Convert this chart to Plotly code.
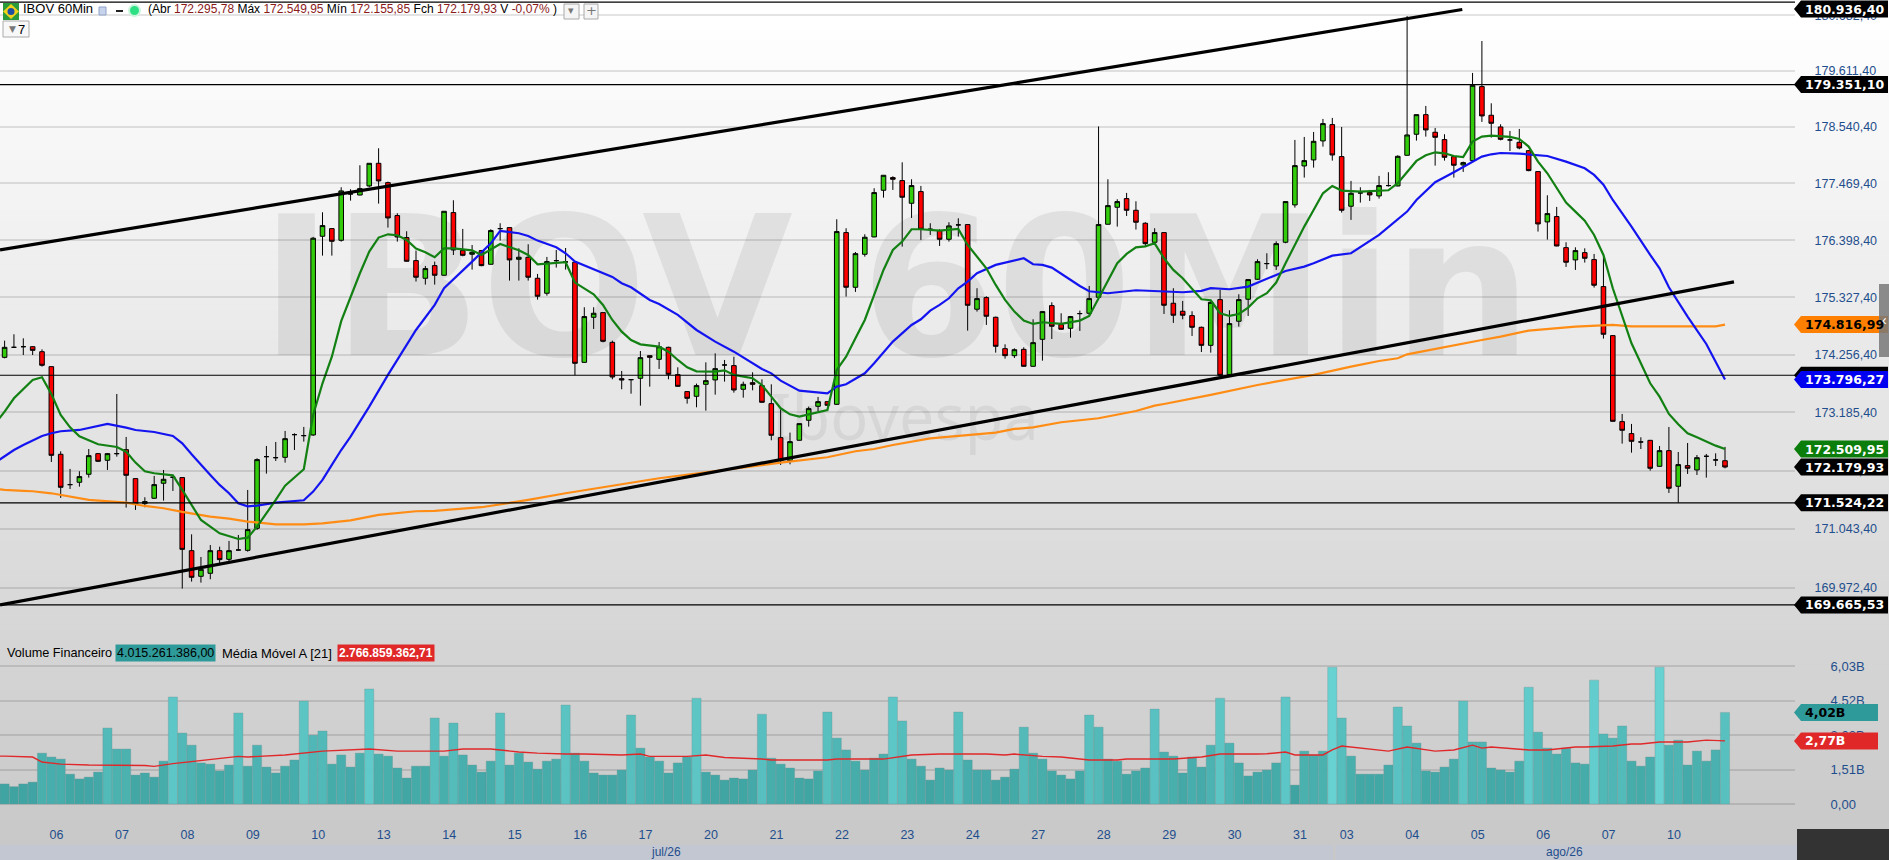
import numpy as np
import plotly.graph_objects as go

# --- candles IBOV 60min ---
abertura = [174207,174393,174405,174405,174312,174034,172414,171857,171900,172047,
    172426,172304,172426,172499,171967,171509,171607,171882,171992,171986,
    170650,170184,170239,170650,170493,170662,170656,171058,172371,172352,
    172358,172776,172758,172770,176472,176616,176396,177271,177250,177422,
    177851,177485,176862,176447,176014,175683,175920,175739,176918,176202,
    176133,176202,175945,176616,176635,176039,176077,175683,175402,176014,
    175989,175983,174114,174953,175040,174486,173811,173793,173818,174238,
    174170,174393,173886,173571,173484,173706,173787,174065,174053,173614,
    173737,173682,173348,172721,172297,172672,173041,173299,173385,173336,
    176541,175514,176133,176459,177340,177580,177523,177094,177315,176604,
    176579,176415,176686,176692,175103,175321,174953,174368,174238,174355,
    174040,174542,175171,174816,174748,175022,175028,175327,176698,177019,
    177182,176962,176717,176358,176541,175215,175065,174984,174766,174430,
    175283,173886,174879,175290,175664,175958,175914,176359,177063,177801,
    177915,178276,178587,177978,177038,177290,177296,177233,177429,177422,
    178003,178403,178777,178441,178301,177978,177820,177902,179312,178765,
    178542,178295,178250,178091,177694,176742,176843,176258,176027,176164,
    176033,175527,174611,173016,172795,172641,172671,172193,172481,171827,
    172206,172126,172377,172310,172295.78]
maxima = [174517,174636,174561,174412,174355,174034,172469,172145,172102,172511,
    172438,172438,173527,172733,171967,171625,172016,172126,171992,171986,
    170948,170535,170753,170723,170827,170936,171759,172340,172567,172641,
    172844,172801,172918,176460,176924,176616,177397,177359,177814,177851,
    178136,177504,176906,176566,176202,175914,175995,176943,177151,176610,
    176308,176214,176604,176717,176641,176245,176321,175764,176083,176214,
    176251,175983,175140,175140,175040,174517,173954,173793,174324,174238,
    174492,174405,174022,173577,173719,174114,174281,174158,174219,173756,
    173929,173799,173706,173244,172813,172979,173293,173472,173385,176792,
    176623,176176,176509,177378,177624,177605,177870,177548,177422,176717,
    176604,176736,176811,176692,175496,175346,174966,174449,174374,174393,
    174916,175059,175233,175028,174978,175078,175539,178552,177548,177170,
    177290,177132,176736,176623,176541,175496,175258,175065,174779,175265,
    175464,175084,175383,175658,176039,176152,176377,177126,178295,178352,
    178447,178695,178714,178542,177517,177397,177346,177612,177681,178003,
    180668,178777,178943,178523,178403,177990,177883,179574,180187,178993,
    178593,178466,178504,178104,177694,177245,177025,176359,176264,176245,
    176139,176089,174611,173158,172973,172727,172678,172567,172917,172456,
    172622,172401,172420,172432,172549.95]
minima = [174188,174387,174250,174250,174034,172273,171613,171777,171820,171986,
    172273,172126,172371,171436,171393,171442,171594,171564,171741,169961,
    170088,170069,170130,170402,170450,170656,170632,171028,172059,172291,
    172261,172493,172647,172752,176108,176108,176371,177144,177244,177397,
    177088,176635,176371,175995,175621,175564,175564,175733,176120,176095,
    175845,175908,175939,176390,175639,175639,175639,175283,175358,175883,
    175845,173873,174108,174735,174486,173799,173614,173533,173311,173663,
    173991,173799,173663,173348,173281,173219,173515,173756,173552,173459,
    173595,173367,172672,172218,172230,172666,172924,173201,173305,173324,
    175339,175427,176089,176453,177201,177346,176277,176817,176403,176497,
    176289,176371,176466,174704,175059,174810,174294,174182,174195,174034,
    174034,174145,174548,174723,174573,174698,174966,175321,176692,176654,
    176855,176598,176289,176339,175015,174848,174916,174605,174306,174294,
    173867,173880,174779,174978,175652,175852,175839,176340,177012,177580,
    177769,178168,177902,176918,176780,177107,177138,177182,177410,177416,
    177997,178282,178358,177807,177902,177580,177687,177883,178638,178339,
    178288,178085,178117,177700,176560,176409,176283,175895,175839,175977,
    175508,174555,173016,172610,172444,172511,172114,172187,171704,171524.22,
    172053,172034,171985,172199,172155.85]
fechamento = [174393,174393,174405,174337,174059,172395,171808,171857,172004,172389,
    172285,172426,172426,172028,171503,171546,171857,171955,171992,170674,
    170166,170311,170650,170487,170650,170662,171034,172316,172371,172352,
    172702,172776,172758,176435,176673,176377,177328,177271,177372,177851,
    177517,176817,176459,176002,175702,175864,175739,176943,176214,176114,
    176170,175920,176579,176616,176027,176077,175702,175346,175995,176014,
    175989,174096,174966,175028,174505,173842,173787,173793,174201,174207,
    174405,173892,173669,173447,173682,173774,173997,174065,173601,173706,
    173706,173373,172764,172297,172647,172979,173256,173385,173318,176560,
    175514,176145,176453,177296,177624,177548,177208,177429,176604,176604,
    176415,176667,176686,175177,175302,174972,174412,174238,174349,174040,
    174480,175059,174785,174729,174966,175022,175302,176692,177050,177126,
    176962,176736,176333,176541,175177,174991,174991,174766,174430,175233,
    173873,174835,175283,175658,175995,175958,176333,177126,177807,177902,
    178269,178606,178009,176962,177283,177290,177252,177429,177429,177984,
    178390,178777,178485,178345,177965,177814,177864,179338,178752,178612,
    178307,178295,178142,177713,176704,176899,176289,175983,176202,176058,
    175552,174636,173022,172856,172653,172641,172157,172481,171790,172224,
    172157,172352,172377,172310,172179.93]

# --- medias (indice do candle, preco) ---
mm_verde_i = [-1,0,1,2,3,4,5,6,7,8,10,12,13,14,15,16,18,19,21,23,25,26,27,29,30,32,33,34,35,36,37,38,39,40,41,42,43,44,45,46,47,48,50,51,53,55,56,57,60,61,63,64,65,66,67,68,70,71,72,73,74,76,77,78,80,81,82,83,84,85,86,87,88,89,90,91,92,93,94,95,96,97,98,100,102,103,104,105,106,107,108,109,110,111,113,115,116,117,118,119,120,121,122,123,124,125,126,127,128,129,130,131,132,133,134,135,136,137,138,139,140,141,142,143,145,148,149,150,151,152,153,154,155,156,157,158,159,161,162,163,164,165,166,167,168,169,170,171,172,173,174,175,176,177,178,179,180,181,182,183,184]
mm_verde = [172980,173201,173447,173614,173787,173836,173527,173139,172911,172745,172598,172549,172462,172261,172102,172065,172028,171759,171210,170967,170863,170888,171089,171576,171838,172138,173139,173725,174219,174880,175339,175777,176183,176447,176509,176491,176403,176239,176170,176077,176245,176245,176208,176120,176327,176208,176120,175945,175983,175602,175383,175184,174903,174685,174530,174449,174405,174312,174158,174022,173947,173941,173966,173880,173818,173694,173478,173262,173151,173108,173151,173188,173231,173972,174219,174561,174903,175371,175839,176214,176371,176604,176604,176579,176610,176308,176089,175870,175558,175277,175059,174891,174829,174860,174829,174891,174978,175308,175652,175964,176139,176264,176283,176339,176058,175839,175683,175496,175290,175271,175028,174978,175015,175134,175308,175402,175602,175964,176308,176654,176968,177283,177422,177334,177315,177340,177473,177694,177896,178003,178060,178041,177990,177971,178263,178358,178377,178352,178314,178168,177883,177662,177378,177107,176937,176767,176497,176120,175496,174965,174468,174096,173725,173478,173158,172967,172801,172727,172647,172573,172509.95]

mm_azul_i = [-1,0,1,2,4,5,6,8,11,13,14,16,18,19,20,22,23,24,25,26,27,29,32,33,34,35,36,37,39,41,44,46,47,50,52,53,55,56,57,59,60,61,63,65,66,67,69,70,72,74,76,78,81,82,83,85,88,89,90,92,93,95,97,98,99,100,101,102,103,104,106,107,109,110,111,112,113,114,115,116,118,121,124,126,128,129,131,133,136,137,139,140,142,144,147,150,151,153,155,157,158,159,160,162,164,165,167,169,170,171,172,174,176,177,178,180,182,184]
mm_azul = [172261,172371,172493,172585,172752,172801,172838,172862,172973,172905,172862,172825,172752,172616,172414,172034,171851,171698,171515,171460,171472,171527,171570,171729,171943,172218,172493,172739,173293,173880,174716,175184,175496,175995,176339,176573,176528,176478,176390,176264,176152,175995,175852,175708,175590,175514,175277,175202,174997,174716,174499,174312,173991,173910,173774,173589,173540,173663,173706,173910,174096,174499,174810,174916,175078,175184,175308,175496,175621,175777,175933,175977,176058,175945,175933,175883,175764,175652,175539,175439,175402,175458,175433,175421,175446,175496,175477,175527,175745,175820,175902,175964,176108,176152,176497,176937,177157,177492,177681,177883,177978,178022,178047,178034,178003,177990,177883,177757,177631,177447,177157,176654,176120,175870,175514,174966,174455,173796.27]

mm_laranja_i = [-1,0,2,3,5,7,9,13,15,17,19,22,24,26,28,29,32,34,37,40,44,46,51,56,60,65,70,75,79,83,88,91,93,95,99,103,106,108,110,113,117,121,123,124,128,129,134,140,144,147,149,150,158,160,163,168,172,174,183,184]
mm_laranja = [171777,171759,171741,171735,171698,171637,171576,171527,171466,171424,171357,171271,171235,171180,171143,171131,171131,171149,171204,171302,171369,171375,171443,171576,171698,171833,171974,172084,172176,172260,172359,172470,172511,172585,172708,172770,172813,172881,172911,173004,173078,173213,173311,173342,173478,173509,173694,173880,174033,174139,174189,174263,174530,174592,174704,174779,174810,174785,174785,174816.99]

# linhas de tendencia (indice, preco) e linhas horizontais
canal_sup_i = [-0.49, 155.9]
canal_sup = [176214, 180794]
canal_inf_i = [-0.49, 184.96]
canal_inf = [169664, 175614]
linhas_h = [180936.40, 179351.10, 173874, 171524.22, 169665.53]

# eixo de precos
ticks_preco = [180682.4,179611.4,178540.4,177469.4,176398.4,175327.4,174256.4,173185.4,172114.4,171043.4,169972.4]
ticks_preco_txt = ["180.682,40","179.611,40","178.540,40","177.469,40","176.398,40","175.327,40","174.256,40","173.185,40","172.114,40","171.043,40","169.972,40"]

# --- volume (bilhoes) ---
volume = [0.88,0.76,0.88,0.96,2.23,2.06,1.97,1.31,1.10,1.18,1.40,3.33,2.41,2.41,1.27,1.36,1.18,1.88,4.69,3.11,
    2.58,1.80,1.75,1.45,1.71,3.99,1.66,2.58,1.62,1.36,1.66,1.93,4.51,3.02,3.20,1.75,2.15,1.62,2.23,5.04,
    2.19,2.10,1.58,1.14,1.66,1.66,3.77,2.10,3.55,2.15,1.71,1.40,1.88,3.99,1.71,2.23,1.84,1.53,1.88,1.97,
    4.34,2.23,1.88,1.36,1.27,1.27,1.49,3.90,2.45,2.06,1.88,1.36,1.80,2.06,4.64,1.40,1.27,1.05,1.14,1.10,
    1.49,3.94,2.01,1.75,1.58,1.14,1.10,1.45,4.03,2.89,2.37,1.88,1.49,2.01,2.19,4.69,3.64,1.97,1.66,1.05,
    1.58,1.49,4.03,1.93,1.49,1.49,1.05,1.18,1.53,3.37,2.23,1.97,1.45,1.27,1.10,1.45,3.90,3.37,1.97,1.88,
    1.31,1.45,1.58,4.16,2.28,2.10,1.36,2.06,1.62,2.58,4.64,2.67,1.80,1.23,1.40,1.49,1.80,4.69,0.83,2.32,
    2.15,2.32,6.00,3.77,2.10,1.31,1.31,1.31,1.71,4.25,3.42,2.67,1.45,1.40,1.62,1.97,4.51,2.72,2.72,1.58,
    1.49,1.40,1.88,5.12,3.15,2.45,2.19,2.45,1.80,1.75,5.43,3.07,2.89,3.42,1.88,1.66,2.06,6.00,2.58,2.80,
    1.71,2.32,1.88,2.37,4.015]
mm_vol_i = [-1,0,3,4,6,9,15,16,18,25,26,30,34,38,39,42,47,49,52,55,57,60,62,66,68,69,73,75,77,81,82,88,89,94,97,100,105,107,108,111,113,116,119,120,125,128,130,134,135,137,138,141,142,143,145,148,150,153,155,157,158,159,163,165,168,169,172,174,175,177,180,182,184]
mm_vol = [2.10,2.10,2.06,1.84,1.75,1.71,1.69,1.65,1.77,2.09,2.06,2.15,2.32,2.41,2.41,2.32,2.32,2.41,2.41,2.28,2.23,2.19,2.19,2.15,2.19,2.09,2.09,2.15,2.04,1.97,1.93,1.93,1.97,1.97,2.15,2.19,2.19,2.15,2.19,2.09,2.06,1.93,1.93,1.97,1.97,2.06,2.19,2.19,2.20,2.28,2.15,2.15,2.37,2.54,2.45,2.32,2.50,2.32,2.37,2.58,2.45,2.50,2.37,2.37,2.50,2.50,2.54,2.63,2.63,2.72,2.72,2.80,2.767]
ticks_vol = [0, 1.51, 3.02, 4.52, 6.03]
ticks_vol_txt = ["0,00", "1,51B", "3,02B", "4,52B", "6,03B"]

# eixo x: primeiro candle de cada dia
inicio_dia = [4,11,18,25,32,39,46,53,60,67,74,81,88,95,102,109,116,123,130,137,142,149,156,163,170,177]
dias = ["06","07","08","09","10","13","14","15","16","17","20","21","22","23","24","27","28","29","30","31","03","04","05","06","07","10"]

# --- geometria em pixels da janela ---
W, H = 1889, 860
PLOT_W, PLOT_H = 1795, 825
X0, DX = 4.6, 9.35   # centro do primeiro candle e passo
AZUL_TXT = "#1f4e8c"
FONTE = "Liberation Sans"

def px(x):
    return x / PLOT_W

def py(y):
    return 1 - y / PLOT_H

n = len(abertura)
idx = list(range(n))

fig = go.Figure()

fig.add_trace(go.Candlestick(x=idx, open=abertura, high=maxima, low=minima, close=fechamento,
    increasing=dict(fillcolor="#33cc0c", line=dict(color="black", width=1)),
    decreasing=dict(fillcolor="#ff0000", line=dict(color="black", width=1)),
    whiskerwidth=0, hoverinfo="skip", showlegend=False))

fig.add_trace(go.Scatter(x=mm_laranja_i, y=mm_laranja, mode="lines", line=dict(color="#ff8c14", width=2.2), hoverinfo="skip", showlegend=False))
fig.add_trace(go.Scatter(x=mm_azul_i, y=mm_azul, mode="lines", line=dict(color="#1414f0", width=2.2), hoverinfo="skip", showlegend=False))
fig.add_trace(go.Scatter(x=mm_verde_i, y=mm_verde, mode="lines", line=dict(color="#128012", width=2.2), hoverinfo="skip", showlegend=False))

for xs, ys in [(canal_sup_i, canal_sup), (canal_inf_i, canal_inf)]:
    fig.add_trace(go.Scatter(x=xs, y=ys, mode="lines", line=dict(color="black", width=3.2), hoverinfo="skip", showlegend=False))

for v in linhas_h:
    fig.add_trace(go.Scatter(x=[-1, 192], y=[v, v], mode="lines", line=dict(color="black", width=1.2), hoverinfo="skip", showlegend=False))

# volume
fig.add_trace(go.Bar(x=idx, y=volume, yaxis="y2",
    marker=dict(color=volume, colorscale=[[0, "#3ea3a1"], [1, "#68d2d2"]], cmin=0.8, cmax=6.0,
                line=dict(color="rgba(110,150,150,0.7)", width=0.5)),
    hoverinfo="skip", showlegend=False))
fig.add_trace(go.Scatter(x=mm_vol_i, y=mm_vol, yaxis="y2", mode="lines", line=dict(color="#e0282a", width=1.4), hoverinfo="skip", showlegend=False))

# fundo em degrade, faixas finas
shapes = []
passo = 10
for y in range(0, H, passo):
    t = min(max((y - 20) / 825, 0), 1)
    c = int(255 - 55 * t)
    shapes.append(dict(type="rect", xref="paper", yref="paper", x0=0, x1=px(W), y0=py(y + passo + 1), y1=py(y),
                       fillcolor=f"rgb({c},{c},{c})", line=dict(width=0), layer="below"))

# marca d'agua
shapes.append(dict(type="rect", xref="paper", yref="paper", x0=px(262), x1=px(1530), y0=py(358), y1=py(188),
                   fillcolor="rgba(0,0,0,0)", line=dict(width=0), layer="below",
                   label=dict(text="<b>IBOV 60Min</b>", textposition="middle center",
                              font=dict(family="DejaVu Sans", size=195, color="rgba(0,0,0,0.07)"))))
shapes.append(dict(type="rect", xref="paper", yref="paper", x0=px(757), x1=px(1052), y0=py(454), y1=py(384),
                   fillcolor="rgba(0,0,0,0)", line=dict(width=0), layer="below",
                   label=dict(text="Ibovespa", textposition="middle center",
                              font=dict(family="Noto Sans", size=63, color="rgba(0,0,0,0.06)"))))

# faixa dos meses e canto escuro
shapes.append(dict(type="rect", xref="paper", yref="paper", x0=0, x1=px(1333), y0=py(860), y1=py(845), fillcolor="#c3c7d1", line=dict(width=0)))
shapes.append(dict(type="rect", xref="paper", yref="paper", x0=px(1335.5), x1=px(1797), y0=py(860), y1=py(845), fillcolor="#c3c7d1", line=dict(width=0)))
shapes.append(dict(type="rect", xref="paper", yref="paper", x0=px(1797), x1=px(W), y0=py(860), y1=py(829), fillcolor="#333333", line=dict(width=0)))

annotations = []

def etiqueta(valor, texto, cor, cor_txt, eixo="y", larg=94, dy=0):
    # seta apontando para o eixo, ancorada no valor
    h = 8.5
    shapes.append(dict(type="path", xref="paper", yref=eixo, xsizemode="pixel", ysizemode="pixel",
                       xanchor=px(1794), yanchor=valor,
                       path=f"M 0 {dy} L 7 {dy + h} L {larg} {dy + h} L {larg} {dy - h} L 7 {dy - h} Z",
                       fillcolor=cor, line=dict(width=0)))
    if texto is None:
        return
    yv = np.log10(valor) if eixo == "y" else valor
    annotations.append(dict(xref="paper", yref=eixo, x=px(1803), y=yv, yshift=dy, xanchor="left", yanchor="middle",
                            text=f"<b>{texto}</b>", showarrow=False,
                            font=dict(family="DejaVu Sans", size=12.5, color=cor_txt)))

etiqueta(180936.40, "180.936,40", "black", "white", dy=-7)
etiqueta(179351.10, "179.351,10", "black", "white")
etiqueta(174816.99, "174.816,99", "#ff8000", "black")
etiqueta(173874, None, "black", "white")  # fica atras da azul
etiqueta(173796.27, "173.796,27", "#0000f0", "white")
etiqueta(172509.95, "172.509,95", "#0b7d0b", "white")
etiqueta(172179.93, "172.179,93", "black", "white")
etiqueta(171524.22, "171.524,22", "black", "white")
etiqueta(169665.53, "169.665,53", "black", "white")
etiqueta(4.015, "4,02B", "#2f9a9a", "black", eixo="y2", larg=84)
etiqueta(2.767, "2,77B", "#e02828", "white", eixo="y2", larg=84)

# alca cinza na direita
shapes.append(dict(type="rect", xref="paper", yref="paper", x0=px(1879), x1=px(W), y0=py(357), y1=py(284),
                   fillcolor="rgba(120,120,120,0.85)", line=dict(width=0)))
annotations.append(dict(xref="paper", yref="paper", x=px(1884), y=py(320), xanchor="center", yanchor="middle",
                        text="‹", showarrow=False, font=dict(family=FONTE, size=14, color="white")))

# cabecalho
VERM = "#8b1a1a"
annotations.append(dict(xref="paper", yref="paper", x=px(21), y=py(9), xanchor="left", yanchor="middle", showarrow=False,
                        text="IBOV 60Min", font=dict(family=FONTE, size=13, color="black")))
cab = (f"(Abr <span style='color:{VERM}'>172.295,78</span> Máx <span style='color:{VERM}'>172.549,95</span> "
       f"Mín <span style='color:{VERM}'>172.155,85</span> Fch <span style='color:{VERM}'>172.179,93</span> "
       f"V <span style='color:{VERM}'>-0,07%</span> )")
annotations.append(dict(xref="paper", yref="paper", x=px(146), y=py(9), xanchor="left", yanchor="middle", showarrow=False,
                        text=cab, font=dict(family=FONTE, size=12, color="black")))
annotations.append(dict(xref="paper", yref="paper", x=px(21), y=py(29), xanchor="center", yanchor="middle", showarrow=False,
                        text="7", font=dict(family=FONTE, size=13, color="black")))

def caixa(x0, x1, y0, y1, cor, borda=None, tipo="rect"):
    shapes.append(dict(type=tipo, xref="paper", yref="paper", x0=px(x0), x1=px(x1), y0=py(y1), y1=py(y0),
                       fillcolor=cor, line=dict(color=borda, width=1) if borda else dict(width=0)))

# bandeira e icones
caixa(3, 19, 3, 20, "#2a9a3a")
shapes.append(dict(type="path", xref="paper", yref="paper",
                   path=f"M {px(3)} {py(11.5)} L {px(11)} {py(4)} L {px(19)} {py(11.5)} L {px(11)} {py(19)} Z",
                   fillcolor="#f2d21a", line=dict(width=0)))
caixa(7.5, 14.5, 8, 15, "#1f4fa0", tipo="circle")
caixa(99, 106, 7, 15, "#c7d3ea", borda="#8fa3c8")
caixa(116, 123, 10, 12, "#222222")
caixa(128, 141, 4, 17, "#c9f5dc", tipo="circle")
caixa(130, 139, 6, 15, "#2ee084", tipo="circle")
# botoes
caixa(564, 579, 4, 19, "#f5f5f5", borda="#aaaaaa")
caixa(584, 598, 4, 19, "#f5f5f5", borda="#aaaaaa")
caixa(3, 29, 21, 37, "#f8f8f8", borda="#aaaaaa")
for xb, yb, txt, tam in [(571, 11, "▾", 11), (591, 11, "+", 13), (12, 29, "▼", 9)]:
    annotations.append(dict(xref="paper", yref="paper", x=px(xb), y=py(yb), xanchor="center", yanchor="middle",
                            showarrow=False, text=txt, font=dict(family="DejaVu Sans", size=tam, color="#777777")))

# legenda do volume
annotations.append(dict(xref="paper", yref="paper", x=px(5), y=py(653), xanchor="left", yanchor="middle", showarrow=False,
                        text="Volume Financeiro", font=dict(family=FONTE, size=12.7, color="black")))
annotations.append(dict(xref="paper", yref="paper", x=px(165), y=py(653), xanchor="center", yanchor="middle", showarrow=False,
                        text="4.015.261.386,00", bgcolor="#2f9a9a", borderpad=1,
                        font=dict(family=FONTE, size=12.5, color="black")))
annotations.append(dict(xref="paper", yref="paper", x=px(220), y=py(653), xanchor="left", yanchor="middle", showarrow=False,
                        text="Média Móvel A [21]", font=dict(family=FONTE, size=13, color="black")))
annotations.append(dict(xref="paper", yref="paper", x=px(386), y=py(653), xanchor="center", yanchor="middle", showarrow=False,
                        text="<b>2.766.859.362,71</b>", bgcolor="#e02828", borderpad=1,
                        font=dict(family=FONTE, size=12, color="white")))

# meses
for xm, txt in [(666, "jul/26"), (1564, "ago/26")]:
    annotations.append(dict(xref="paper", yref="paper", x=px(xm), y=py(852), xanchor="center", yanchor="middle",
                            showarrow=False, text=txt, font=dict(family=FONTE, size=12, color=AZUL_TXT)))

preco_topo, preco_base = 180977, 169302
GRADE = "rgba(0,0,0,0.11)"

fig.update_layout(
    width=W, height=H, autosize=False,
    margin=dict(l=0, r=W - PLOT_W, t=0, b=H - PLOT_H, pad=0),
    paper_bgcolor="rgba(0,0,0,0)", plot_bgcolor="rgba(0,0,0,0)",
    showlegend=False, bargap=0.02, boxgap=0.3, dragmode=False,
    shapes=shapes, annotations=annotations,
    xaxis=dict(anchor="y2", range=[-X0 / DX, (PLOT_W - X0) / DX], rangeslider=dict(visible=False),
               tickmode="array", tickvals=[d + 1.55 for d in inicio_dia], ticktext=dias,
               tickfont=dict(family=FONTE, size=12.5, color=AZUL_TXT), ticks="", showgrid=False,
               showline=False, zeroline=False),
    yaxis=dict(domain=[py(625), 1], type="log", side="right", range=[np.log10(preco_base), np.log10(preco_topo)],
               tickmode="array", tickvals=ticks_preco, ticktext=ticks_preco_txt,
               tickfont=dict(family=FONTE, size=12.5, color=AZUL_TXT), ticks="outside", ticklen=16,
               tickcolor="rgba(0,0,0,0)", showgrid=True, gridcolor=GRADE, gridwidth=1.5,
               showline=False, zeroline=False),
    yaxis2=dict(domain=[0, py(632)], side="right", range=[-0.92, 7.54],
                tickmode="array", tickvals=ticks_vol, ticktext=ticks_vol_txt,
                tickfont=dict(family=FONTE, size=13, color=AZUL_TXT), ticks="outside", ticklen=32,
                tickcolor="rgba(0,0,0,0)", showgrid=True, gridcolor=GRADE, gridwidth=1.5,
                showline=False, zeroline=False),
)

fig.write_html("out.html", config=dict(displayModeBar=False),
               post_script="document.body.style.margin='0';document.body.style.overflow='hidden';")
